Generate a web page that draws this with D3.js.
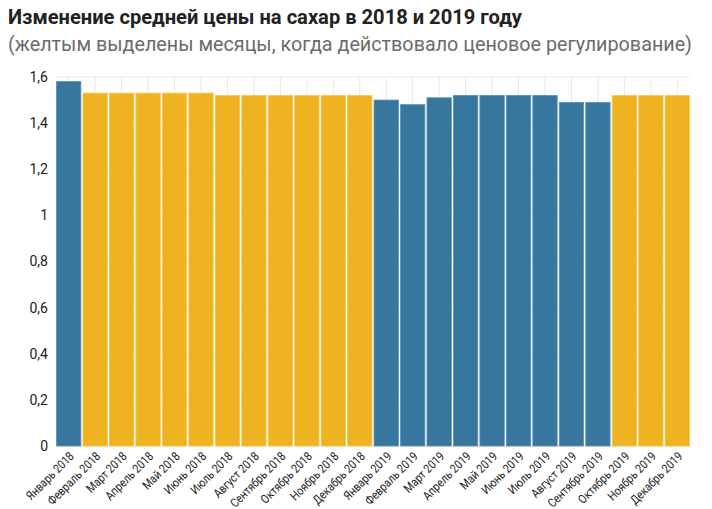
<!DOCTYPE html>
<html><head><meta charset="utf-8">
<script src="https://cdn.jsdelivr.net/npm/d3@7"></script>
<style>body{margin:0;background:#fff;}svg{display:block;font-family:Roboto,"Noto Sans",sans-serif;}</style>
</head><body>
<svg id="c" width="712" height="509"></svg>
<script>
const months = ["Январь 2018","Февраль 2018","Март 2018","Апрель 2018","Май 2018","Июнь 2018","Июль 2018","Август 2018","Сентябрь 2018","Октябрь 2018","Ноябрь 2018","Декабрь 2018","Январь 2019","Февраль 2019","Март 2019","Апрель 2019","Май 2019","Июнь 2019","Июль 2019","Август 2019","Сентябрь 2019","Октябрь 2019","Ноябрь 2019","Декабрь 2019"];
const prices = [1.58,1.53,1.53,1.53,1.53,1.53,1.52,1.52,1.52,1.52,1.52,1.52,1.50,1.48,1.51,1.52,1.52,1.52,1.52,1.49,1.49,1.52,1.52,1.52];
const regulated = [0,1,1,1,1,1,1,1,1,1,1,1,0,0,0,0,0,0,0,0,0,1,1,1];
const yTicks = [0,0.2,0.4,0.6,0.8,1,1.2,1.4,1.6];
const title = "Изменение средней цены на сахар в 2018 и 2019 году";
const subtitle = "(желтым выделены месяцы, когда действовало ценовое регулирование)";

const svg = d3.select("#c");
const m = {l:56, r:22, t:77, b:63};
const W = 712, H = 509;
const x = d3.scaleBand().domain(months).range([m.l, W - m.r]).paddingInner(0.08).paddingOuter(0.02);
const y = d3.scaleLinear().domain([0,1.6]).range([H - m.b, m.t]);

svg.append("text").attr("x",8).attr("y",24).attr("font-size",21).attr("font-weight",700)
  .attr("fill","#222").attr("textLength",514).attr("lengthAdjust","spacingAndGlyphs").text(title);
svg.append("text").attr("x",8).attr("y",51).attr("font-size",20.5).attr("fill","#6b6b6b")
  .attr("textLength",684).attr("lengthAdjust","spacingAndGlyphs").text(subtitle);

// gridlines
const g = svg.append("g");
g.selectAll("line.v").data(months).join("line")
  .attr("x1",d=>x(d)+x.bandwidth()/2).attr("x2",d=>x(d)+x.bandwidth()/2)
  .attr("y1",y(1.6)).attr("y2",y(0)).attr("stroke","#e8e8ec").attr("stroke-width",1);
g.selectAll("line.h").data(yTicks).join("line")
  .attr("x1",m.l).attr("x2",W-m.r).attr("y1",d=>y(d)).attr("y2",d=>y(d))
  .attr("stroke","#e8e8ec").attr("stroke-width",1);

svg.append("g").selectAll("rect").data(months).join("rect")
  .attr("x",d=>x(d)).attr("width",x.bandwidth())
  .attr("y",(d,i)=>y(prices[i])).attr("height",(d,i)=>y(0)-y(prices[i]))
  .attr("fill",(d,i)=>regulated[i]?"#efb322":"#37769e")
  .attr("stroke",(d,i)=>regulated[i]?"#f3c44e":"#5a8fb2").attr("stroke-width",0.8);

const fmt = d => String(d).replace(".",",");
const ya = svg.append("g").attr("transform",`translate(${m.l},0)`)
  .call(d3.axisLeft(y).tickValues(yTicks).tickFormat(fmt).tickSize(0).tickPadding(8));
ya.select(".domain").remove();
ya.selectAll("text").attr("font-size",14).attr("fill","#222").attr("font-family","Roboto,sans-serif");

const xa = svg.append("g").attr("transform",`translate(0,${y(0)})`)
  .call(d3.axisBottom(x).tickSize(0).tickPadding(0));
xa.select(".domain").remove();
xa.selectAll("text").attr("font-size",12.3).attr("fill","#222").attr("font-family","Roboto,sans-serif")
  .attr("text-anchor","end").attr("x",0).attr("y",0).attr("dy","0.35em")
  .attr("transform","translate(3,8) rotate(-45)")
  .each(function(){ const L = this.getComputedTextLength(); d3.select(this).attr("textLength", L*0.85).attr("lengthAdjust","spacingAndGlyphs"); });
</script>
</body></html>
